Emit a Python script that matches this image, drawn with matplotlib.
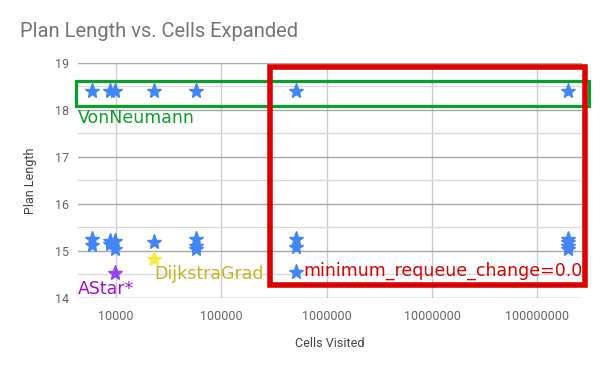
import numpy as np
import matplotlib.pyplot as plt
from matplotlib.patches import Rectangle

plt.rcParams['font.family'] = ['Roboto', 'DejaVu Sans']

# blue series (all runs)
blue_x = [5875, 8770, 9780, 22960, 57500, 514000, 1.96e8,
          5875, 5875, 8770, 8770, 9780, 9780, 22960,
          57500, 57500, 57500, 514000, 514000, 514000,
          1.96e8, 1.96e8, 1.96e8, 1.96e8]
blue_y = [18.4, 18.4, 18.4, 18.4, 18.4, 18.4, 18.4,
          15.25, 15.13, 15.22, 15.15, 15.2, 15.05, 15.18,
          15.25, 15.1, 15.05, 15.25, 15.08, 14.55,
          15.25, 15.18, 15.1, 15.05]
astar_x = [9780]
astar_y = [14.54]
dijk_x = [22960]
dijk_y = [14.82]

xticks = [1e4, 1e5, 1e6, 1e7, 1e8]
xticklabels = ['10000', '100000', '1000000', '10000000', '100000000']

fig = plt.figure(figsize=(6, 3.71), dpi=100)
ax = fig.add_axes([0.1295, 0.197, 0.8405, 0.634])
ax.set_xscale('log')
ax.set_xlim(4325, 2.65e8)
ax.set_ylim(14, 19)

ax.plot(blue_x, blue_y, '*', color='#4285f4', ms=11, mec='#4285f4', zorder=3)
ax.plot(astar_x, astar_y, '*', color='#9146f0', ms=11, zorder=3)
ax.plot(dijk_x, dijk_y, '*', color='#f5ec45', ms=11, zorder=3)

ax.set_xticks(xticks)
ax.set_xticklabels(xticklabels)
ax.xaxis.set_minor_locator(plt.NullLocator())
ax.set_yticks(np.arange(14, 20, 1))
ax.set_yticks(np.arange(14.5, 19, 1), minor=True)
ax.tick_params(axis='both', which='both', length=0, labelsize=9, colors='#666666')
ax.tick_params(axis='x', pad=9)
ax.tick_params(axis='y', pad=6)
ax.grid(axis='y', which='major', color='#a8a8a8', lw=1)
ax.grid(axis='y', which='minor', color='#d9d9d9', lw=1)
ax.grid(axis='x', which='major', color='#cccccc', lw=1)
ax.set_axisbelow(True)
for s in ax.spines.values():
    s.set_visible(False)

ax.set_xlabel('Cells Visited', fontsize=9, color='#444444', labelpad=10)
ax.set_ylabel('Plan Length', fontsize=9, color='#444444', labelpad=13)
fig.text(0.033, 0.915, 'Plan Length vs. Cells Expanded', fontsize=14.5,
         color='#757575', va='center')

# highlight boxes
ax.add_patch(Rectangle((4200, 18.09), 3.08e8 - 4200, 0.53, fill=False,
                       ec='#0a9e2a', lw=2.3, clip_on=False, zorder=4))
ax.add_patch(Rectangle((2.91e5, 14.27), 2.85e8 - 2.91e5, 4.63, fill=False,
                       ec='#dd0000', lw=4, clip_on=False, zorder=4))

ax.text(4325, 17.83, 'VonNeumann', family='DejaVu Sans', fontsize=12.5,
        color='#0a9e2a', va='center', ha='left', zorder=5)
ax.text(4325, 14.2, 'AStar*', family='DejaVu Sans', fontsize=12.5,
        color='#9a10d0', va='center', ha='left', zorder=5)
ax.text(22960, 14.5, 'DijkstraGrad', family='DejaVu Sans', fontsize=12.5,
        color='#c4b624', va='center', ha='left', zorder=5)
ax.text(6.0e5, 14.57, 'minimum_requeue_change=0.0', family='DejaVu Sans',
        fontsize=12.5, color='#dd0000', va='center', ha='left', zorder=5)

fig.savefig('out.png', dpi=100)
